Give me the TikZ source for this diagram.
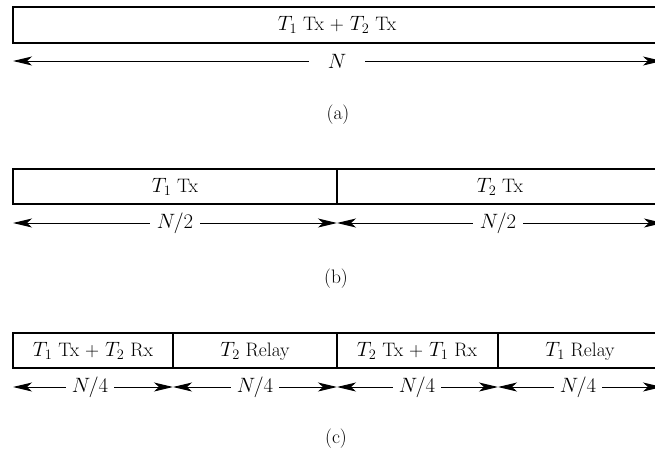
\documentclass[tikz,border=0pt]{standalone}
\usetikzlibrary{arrows.meta}
\begin{document}
\begin{tikzpicture}[x=1pt,y=-1pt,
  txt/.style={font=\fontsize{19.5}{23}\selectfont, inner sep=0pt},
  lab/.style={font=\fontsize{19.5}{23}\selectfont, fill=white, inner ysep=1pt},
  caption/.style={font=\fontsize{19.5}{23}\selectfont, inner sep=0pt},
  frame/.style={line width=1.2pt},
  span/.style={{Stealth[length=19pt,width=9pt,inset=5pt]}-{Stealth[length=19pt,width=9pt,inset=5pt]}, line width=1pt}]
\useasboundingbox (0,0) rectangle (655,453);
\clip (0,0) rectangle (655,453);
% (a)
\draw[frame] (13,7) rectangle (662,43);
\node[txt] (a1) at (337,25) {$T_1$ Tx + $T_2$ Tx};
\coordinate (aL) at (13,61);
\coordinate (aR) at (662,61);
\draw[span] (aL) -- (aR);
\node[lab, inner xsep=19pt] (aN) at (337,61) {$N$};
\node[caption] (ca) at (338,115) {(a)};
% (b)
\draw[frame] (13,169) rectangle (663,204);
\draw[frame] (337,169) -- (337,204);
\node[txt] (b1) at (175,187) {$T_1$ Tx};
\node[txt] (b2) at (500,187) {$T_2$ Tx};
\coordinate (bL) at (13,223);
\coordinate (bM) at (337,223);
\coordinate (bR) at (663,223);
\draw[span] (bL) -- (bM);
\draw[span] (bM) -- (bR);
\node[lab, inner xsep=7pt] (bN1) at (175,223) {$N/2$};
\node[lab, inner xsep=7pt] (bN2) at (498,223) {$N/2$};
\node[caption] (cb) at (336,279) {(b)};
% (c)
\draw[frame] (13,333) rectangle (662,368);
\draw[frame] (173,333) -- (173,368);
\draw[frame] (337,333) -- (337,368);
\draw[frame] (498,333) -- (498,368);
\node[txt] (c1) at (93,351) {$T_1$ Tx + $T_2$ Rx};
\node[txt] (c2) at (255,351) {$T_2$ Relay};
\node[txt] (c3) at (417,351) {$T_2$ Tx + $T_1$ Rx};
\node[txt] (c4) at (580,351) {$T_1$ Relay};
\coordinate (cL) at (13,387);
\coordinate (cM1) at (173,387);
\coordinate (cM2) at (337,387);
\coordinate (cM3) at (498,387);
\coordinate (cR) at (662,387);
\draw[span] (cL) -- (cM1);
\draw[span] (cM1) -- (cM2);
\draw[span] (cM2) -- (cM3);
\draw[span] (cM3) -- (cR);
\node[lab, inner xsep=6pt] (cN1) at (90,387) {$N/4$};
\node[lab, inner xsep=6pt] (cN2) at (255,387) {$N/4$};
\node[lab, inner xsep=6pt] (cN3) at (417,387) {$N/4$};
\node[lab, inner xsep=6pt] (cN4) at (578,387) {$N/4$};
\node[caption] (cc) at (336,439) {(c)};
\end{tikzpicture}
\end{document}
